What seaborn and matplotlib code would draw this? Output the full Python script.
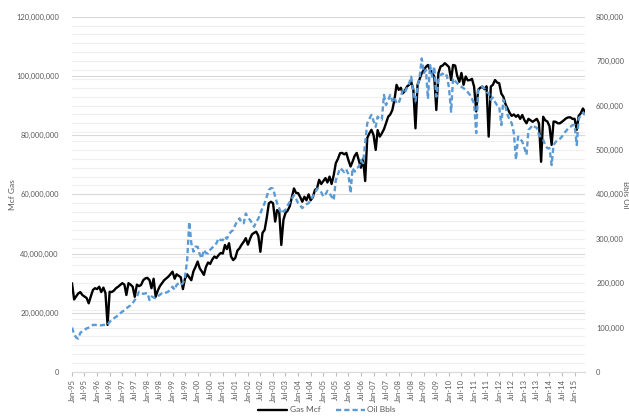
import seaborn as sns
import matplotlib.pyplot as plt
import matplotlib.dates as mdates
from matplotlib.ticker import MultipleLocator, FuncFormatter
import pandas as pd
import numpy as np

# monthly production, Jan-95 .. Jun-15
# gas in millions of Mcf, one row per year
gas_mmcf = [
    30.0, 24.5, 25.5, 26.5, 27.0, 26.0, 25.5, 25.0, 23.2, 25.5, 27.7, 28.3,
    28.0, 28.8, 27.0, 28.5, 26.7, 15.9, 27.1, 27.0, 27.5, 28.3, 28.8, 29.4,
    30.0, 29.5, 26.0, 30.0, 29.5, 28.8, 25.4, 29.5, 29.0, 29.4, 31.0, 31.6,
    31.8, 31.0, 28.3, 31.5, 25.4, 27.5, 29.0, 30.0, 31.0, 31.6, 32.2, 33.0,
    33.9, 31.5, 33.0, 32.5, 32.0, 28.0, 31.5, 33.0, 32.0, 31.0, 34.0, 35.5,
    37.3, 35.0, 34.0, 32.8, 35.5, 37.0, 36.5, 38.0, 39.0, 38.5, 39.5, 40.2,
    40.0, 42.9, 41.5, 43.5, 39.0, 37.8, 38.5, 41.0, 41.8, 43.0, 44.0, 45.2,
    43.0, 45.0, 46.5, 47.0, 47.4, 46.0, 40.6, 47.0, 48.0, 52.0, 57.0, 57.5,
    57.0, 50.8, 54.7, 54.0, 42.9, 51.4, 53.7, 54.5, 56.0, 59.0, 62.0, 60.5,
    60.4, 59.0, 57.5, 59.2, 58.0, 60.0, 58.0, 59.0, 61.5, 62.0, 64.9, 63.5,
    64.5, 65.5, 64.0, 66.0, 63.5, 66.5, 70.5, 72.0, 73.9, 74.0, 73.5, 74.0,
    71.5, 69.4, 71.0, 73.0, 74.0, 71.5, 69.0, 72.0, 64.5, 79.0, 80.6, 81.8,
    80.0, 75.0, 81.7, 79.5, 80.6, 82.0, 84.0, 86.2, 87.0, 88.5, 92.0, 97.0,
    95.3, 96.0, 94.1, 95.0, 96.4, 97.0, 98.0, 95.3, 82.3, 97.0, 99.0, 100.9,
    102.0, 103.1, 103.7, 102.0, 101.0, 99.8, 88.5, 101.0, 103.2, 103.5, 104.3, 103.7,
    103.0, 98.6, 103.7, 103.5, 100.0, 98.0, 101.0, 97.0, 99.8, 98.5, 98.6, 99.0,
    96.4, 88.0, 95.3, 96.0, 96.4, 95.5, 96.5, 79.5, 96.4, 97.0, 98.6, 97.8,
    97.5, 94.0, 93.0, 90.5, 89.0, 87.5, 86.5, 87.0, 86.2, 86.8, 85.5, 86.8,
    85.1, 84.0, 85.5, 85.0, 84.5, 85.0, 85.5, 84.0, 71.0, 86.2, 85.0, 84.6,
    83.0, 76.7, 84.6, 84.5, 84.0, 84.0, 84.5, 85.1, 85.7, 86.0, 86.0, 85.5,
    85.5, 81.8, 86.5, 87.4, 89.0, 87.9,
]

# oil in thousands of barrels
oil_kbbl = [
    100, 85, 78, 75, 88, 92, 95, 98, 100, 103, 106, 106,
    106, 106, 105, 106, 106, 106, 113, 117, 121, 124, 128, 132,
    136, 139, 143, 147, 150, 155, 162, 170, 181, 178, 176, 177,
    178, 162, 170, 168, 166, 170, 174, 177, 176, 179, 181, 186,
    192, 185, 196, 200, 196, 200, 214, 250, 338, 290, 271, 282,
    282, 265, 256, 275, 268, 267, 275, 280, 285, 290, 301, 297,
    297, 305, 300, 310, 316, 320, 331, 340, 346, 336, 335, 357,
    348, 342, 335, 327, 338, 345, 357, 370, 380, 395, 410, 414,
    413, 395, 380, 368, 357, 362, 365, 375, 383, 390, 398, 390,
    380, 375, 369, 375, 378, 380, 388, 395, 402, 413, 410, 405,
    395, 400, 408, 402, 395, 387, 432, 445, 459, 455, 450, 456,
    445, 403, 459, 451, 460, 462, 477, 470, 515, 560, 570, 579,
    565, 552, 575, 570, 568, 624, 601, 612, 624, 610, 618, 605,
    605, 620, 635, 630, 640, 650, 665, 628, 610, 643, 665, 706,
    673, 680, 615, 691, 665, 688, 620, 658, 669, 672, 665, 668,
    640, 586, 661, 655, 650, 646, 642, 639, 635, 630, 624, 615,
    605, 538, 635, 640, 643, 638, 630, 628, 613, 618, 608, 601,
    598, 556, 613, 598, 579, 568, 560, 538, 478, 530, 525, 519,
    505, 489, 545, 550, 556, 552, 550, 534, 528, 523, 510, 504,
    504, 466, 511, 518, 523, 525, 530, 538, 543, 549, 552, 556,
    556, 511, 571, 577, 583, 579,
]

series_labels = ["Gas Mcf", "Oil Bbls"]
colors = ["#000000", "#5B9BD5"]

months = pd.date_range("1995-01-01", periods=len(gas_mmcf), freq="MS")
df = pd.DataFrame({
    "month": months,
    "gas": np.array(gas_mmcf) * 1e6,
    "oil": np.array(oil_kbbl) * 1e3,
})

sns.set_style("white")
plt.rcParams["font.family"] = ["Lato", "DejaVu Sans"]
txt = "#595959"

fig = plt.figure(figsize=(6.29, 4.18), dpi=100)
W, H = 629, 418
ax1 = fig.add_axes([72 / W, 1 - 372 / H, (585 - 72) / W, (372 - 16.7) / H])
ax2 = ax1.twinx()

sns.lineplot(data=df, x="month", y="gas", ax=ax1, color=colors[0], linewidth=1.7)
sns.lineplot(data=df, x="month", y="oil", ax=ax2, color=colors[1], linewidth=1.7)
ax2.lines[0].set_dashes([2.2, 1.3])

ax1.set_xlim(months[0], months[-1])
ax1.set_ylim(0, 120e6)
ax2.set_ylim(0, 800e3)

# gridlines: right axis minor (20k = 3M) and left major (20M)
ax1.yaxis.set_major_locator(MultipleLocator(20e6))
ax1.yaxis.set_minor_locator(MultipleLocator(3e6))
ax2.yaxis.set_major_locator(MultipleLocator(100e3))
ax1.set_axisbelow(True)
ax1.grid(which="minor", axis="y", color="#EFEFEF", linewidth=0.8)
ax1.grid(which="major", axis="y", color="#D9D9D9", linewidth=0.8)
ax1.grid(which="major", axis="x", visible=False)
ax2.grid(False)

fmt = FuncFormatter(lambda v, p: f"{v:,.0f}")
ax1.yaxis.set_major_formatter(fmt)
ax2.yaxis.set_major_formatter(fmt)

ticks = pd.date_range("1995-01-01", "2015-01-01", freq="6MS")
ax1.set_xticks(ticks)
ax1.xaxis.set_major_formatter(mdates.DateFormatter("%b-%y"))
for lab in ax1.get_xticklabels():
    lab.set_rotation(90)

ax1.tick_params(axis="x", labelsize=5.5, labelcolor=txt, bottom=True, length=3,
                color="#BFBFBF", pad=2)
ax1.tick_params(axis="y", which="both", left=False, labelsize=5.4, labelcolor=txt, pad=6)
ax2.tick_params(axis="y", which="both", right=False, labelsize=5.4, labelcolor=txt, pad=4.5)

for s in ["top", "left", "right"]:
    ax1.spines[s].set_visible(False)
for s in ["top", "left", "right", "bottom"]:
    ax2.spines[s].set_visible(False)
ax1.spines["bottom"].set_color("#D9D9D9")

ax1.set_xlabel("")
ax1.set_ylabel("Mcf Gas", fontsize=6, color=txt)
ax1.yaxis.set_label_coords(-0.11, 0.5)
ax2.set_ylabel("Bbls Oil", fontsize=5.8, color=txt, rotation=270, va="bottom")
ax2.yaxis.set_label_coords(1.0715, 0.5)

fig.legend(handles=[ax1.lines[0], ax2.lines[0]], labels=series_labels,
           loc="center", bbox_to_anchor=(0.52, 1 - 410 / H), ncol=2, frameon=False,
           fontsize=6, handlelength=3.5, handletextpad=0.3, columnspacing=1.8,
           labelcolor=txt)

plt.savefig("out.png", format="png", dpi=100)
